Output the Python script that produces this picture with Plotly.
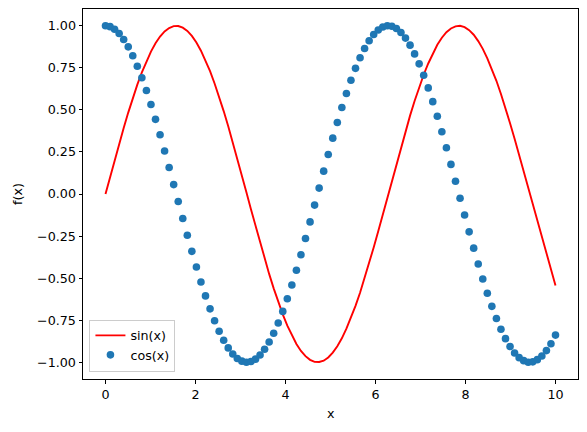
import plotly.graph_objects as go

# x sampled at 100 even steps from 0 to 10
x_vals = [round(i * 10 / 99, 5) for i in range(100)]

sin_vals = [
    0.000, 0.101, 0.201, 0.298, 0.393, 0.484, 0.570, 0.650, 0.723, 0.789,
    0.847, 0.896, 0.936, 0.967, 0.987, 0.998, 0.999, 0.989, 0.970, 0.940,
    0.901, 0.852, 0.795, 0.730, 0.657, 0.578, 0.493, 0.403, 0.308, 0.211,
    0.111, 0.010, -0.091, -0.191, -0.289, -0.384, -0.475, -0.561, -0.642, -0.716,
    -0.783, -0.841, -0.892, -0.933, -0.964, -0.986, -0.998, -0.999, -0.991, -0.972,
    -0.943, -0.905, -0.858, -0.801, -0.737, -0.665, -0.587, -0.502, -0.412, -0.318,
    -0.221, -0.121, -0.021, 0.080, 0.180, 0.279, 0.374, 0.466, 0.553, 0.634,
    0.709, 0.776, 0.836, 0.887, 0.929, 0.962, 0.984, 0.997, 1.000, 0.992,
    0.974, 0.947, 0.909, 0.863, 0.807, 0.744, 0.673, 0.595, 0.511, 0.421,
    0.328, 0.231, 0.131, 0.031, -0.070, -0.170, -0.269, -0.365, -0.457, -0.544,
]

cos_vals = [
    1.000, 0.995, 0.980, 0.954, 0.919, 0.875, 0.822, 0.760, 0.691, 0.615,
    0.532, 0.444, 0.352, 0.256, 0.158, 0.056, -0.045, -0.146, -0.245, -0.341,
    -0.434, -0.523, -0.606, -0.683, -0.754, -0.816, -0.870, -0.915, -0.951, -0.978,
    -0.994, -1.000, -0.996, -0.982, -0.957, -0.923, -0.880, -0.828, -0.767, -0.698,
    -0.623, -0.541, -0.453, -0.361, -0.265, -0.166, -0.066, 0.035, 0.136, 0.235,
    0.332, 0.425, 0.514, 0.598, 0.676, 0.747, 0.810, 0.865, 0.911, 0.948,
    0.975, 0.993, 1.000, 0.997, 0.984, 0.960, 0.927, 0.885, 0.833, 0.774,
    0.706, 0.631, 0.549, 0.462, 0.370, 0.275, 0.176, 0.076, -0.025, -0.125,
    -0.225, -0.322, -0.416, -0.505, -0.590, -0.668, -0.740, -0.804, -0.860, -0.907,
    -0.945, -0.973, -0.991, -1.000, -0.998, -0.985, -0.963, -0.931, -0.890, -0.839,
]

y_ticks = [-1.0, -0.75, -0.5, -0.25, 0.0, 0.25, 0.5, 0.75, 1.0]
y_tick_text = ["\u22121.00", "\u22120.75", "\u22120.50", "\u22120.25",
               "0.00", "0.25", "0.50", "0.75", "1.00"]

FONT = "DejaVu Sans"
FSIZE = 12.7

fig = go.Figure()
fig.add_trace(go.Scatter(
    x=x_vals, y=sin_vals, name="sin(x)", mode="lines",
    line=dict(color="#ff0000", width=1.9),
))
fig.add_trace(go.Scatter(
    x=x_vals, y=cos_vals, name="cos(x)", mode="markers",
    marker=dict(color="#1f77b4", size=7.6),
))

axis_common = dict(
    showline=True, linecolor="black", linewidth=1, mirror=True,
    showgrid=False, zeroline=False, automargin=False,
    ticks="outside", ticklen=3.5, tickwidth=0.8, tickcolor="black",
    tickfont=dict(family=FONT, size=FSIZE, color="black"),
)

fig.update_layout(
    width=587, height=432,
    margin=dict(l=83, r=9, t=9, b=53),
    plot_bgcolor="white", paper_bgcolor="white",
    font=dict(family=FONT, size=FSIZE, color="black"),
    showlegend=True,
    legend=dict(
        x=0.013, y=0.02, xanchor="left", yanchor="bottom",
        bgcolor="rgba(255,255,255,0.8)", bordercolor="#cccccc", borderwidth=1,
        font=dict(family=FONT, size=FSIZE),
    ),
    xaxis=dict(range=[-0.5, 10.5], tickvals=[0, 2, 4, 6, 8, 10], **axis_common),
    yaxis=dict(range=[-1.1, 1.1], tickvals=y_ticks, ticktext=y_tick_text,
               **axis_common),
)

# axis titles placed like matplotlib's
fig.add_annotation(text="x", xref="paper", yref="paper", x=0.5, y=0,
                   yanchor="middle", yshift=-34, showarrow=False,
                   font=dict(family=FONT, size=FSIZE))
fig.add_annotation(text="f(x)", xref="paper", yref="paper", x=0, y=0.5,
                   xanchor="center", xshift=-66, textangle=-90, showarrow=False,
                   font=dict(family=FONT, size=FSIZE))

# drop the browser's default page margin so the figure sits at (0, 0)
fig.write_html(
    "out.html",
    config={"displayModeBar": False},
    post_script="document.body.style.margin='0';document.body.style.overflow='hidden';",
)
